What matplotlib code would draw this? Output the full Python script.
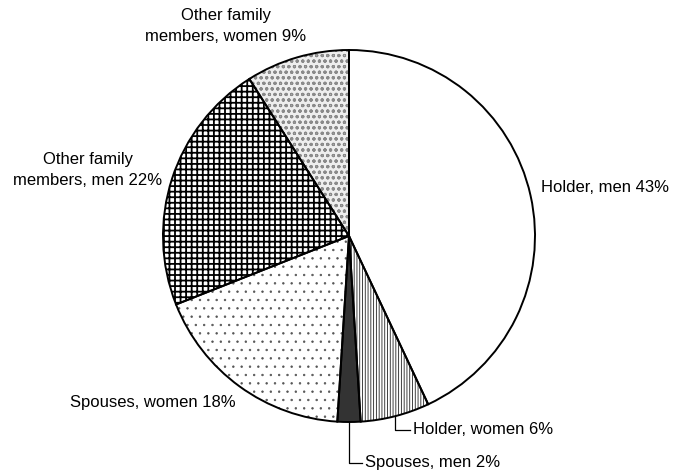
import numpy as np
import matplotlib.pyplot as plt

plt.rcParams['font.family'] = ['Liberation Sans', 'DejaVu Sans']
plt.rcParams['hatch.linewidth'] = 1.0

labels = ['Holder, men', 'Holder, women', 'Spouses, men', 'Spouses, women',
          'Other family\nmembers, men', 'Other family\nmembers, women']
shares = [43, 6, 2, 18, 22, 9]

# looks of each slice
fills = ['white', 'white', '#333333', 'white', 'white', '#eeeeee']
hatches = ['', '||||||', '', '..', '+++', 'ooo']
hatch_colors = ['white', '#222222', '#333333', '#555555', 'black', '#8a8a8a']
hatch_lw = [0.5, 0.6, 0.5, 0.5, 1.3, 0.8]

# label placement in pixels (x, y from top), alignment
label_pos = [(541, 188, 'left'), (413, 430, 'left'), (365, 463, 'left'),
             (70, 403, 'left'), (88, 170, 'center'), (226, 26, 'center')]

W, H = 674, 475
fig = plt.figure(figsize=(W / 100, H / 100), dpi=100)
ax = fig.add_axes([0, 0, 1, 1])

cx, cy, r = 349, H - 236, 186

wedges, _ = ax.pie(shares, startangle=90, counterclock=False, center=(cx, cy),
                   radius=r, colors=fills, wedgeprops=dict(linewidth=0))
for w, h, hc, lw in zip(wedges, hatches, hatch_colors, hatch_lw):
    w.set_hatch(h)
    w.set_edgecolor(hc)
    if hasattr(w, 'set_hatch_linewidth'):
        w.set_hatch_linewidth(lw)

# black outlines on top
ax.pie(shares, startangle=90, counterclock=False, center=(cx, cy), radius=r,
       wedgeprops=dict(fill=False, edgecolor='black', linewidth=1.4))

ax.set_xlim(0, W)
ax.set_ylim(0, H)
ax.set_aspect('auto')
ax.axis('off')

for lab, val, (x, y, ha) in zip(labels, shares, label_pos):
    ax.text(x, H - y, f'{lab} {val}%', ha=ha, va='center', fontsize=12,
            multialignment='center', linespacing=1.45)

# leader lines for the two thin slices
for i in (1, 2):
    w = wedges[i]
    a = np.deg2rad((w.theta1 + w.theta2) / 2)
    px, py = cx + r * np.cos(a), cy + r * np.sin(a)
    tx, ty = label_pos[i][0] - 3, H - label_pos[i][1]
    ax.plot([px, px, tx], [py, ty, ty], color='black', lw=0.9)

fig.savefig('out.png', dpi=100)
